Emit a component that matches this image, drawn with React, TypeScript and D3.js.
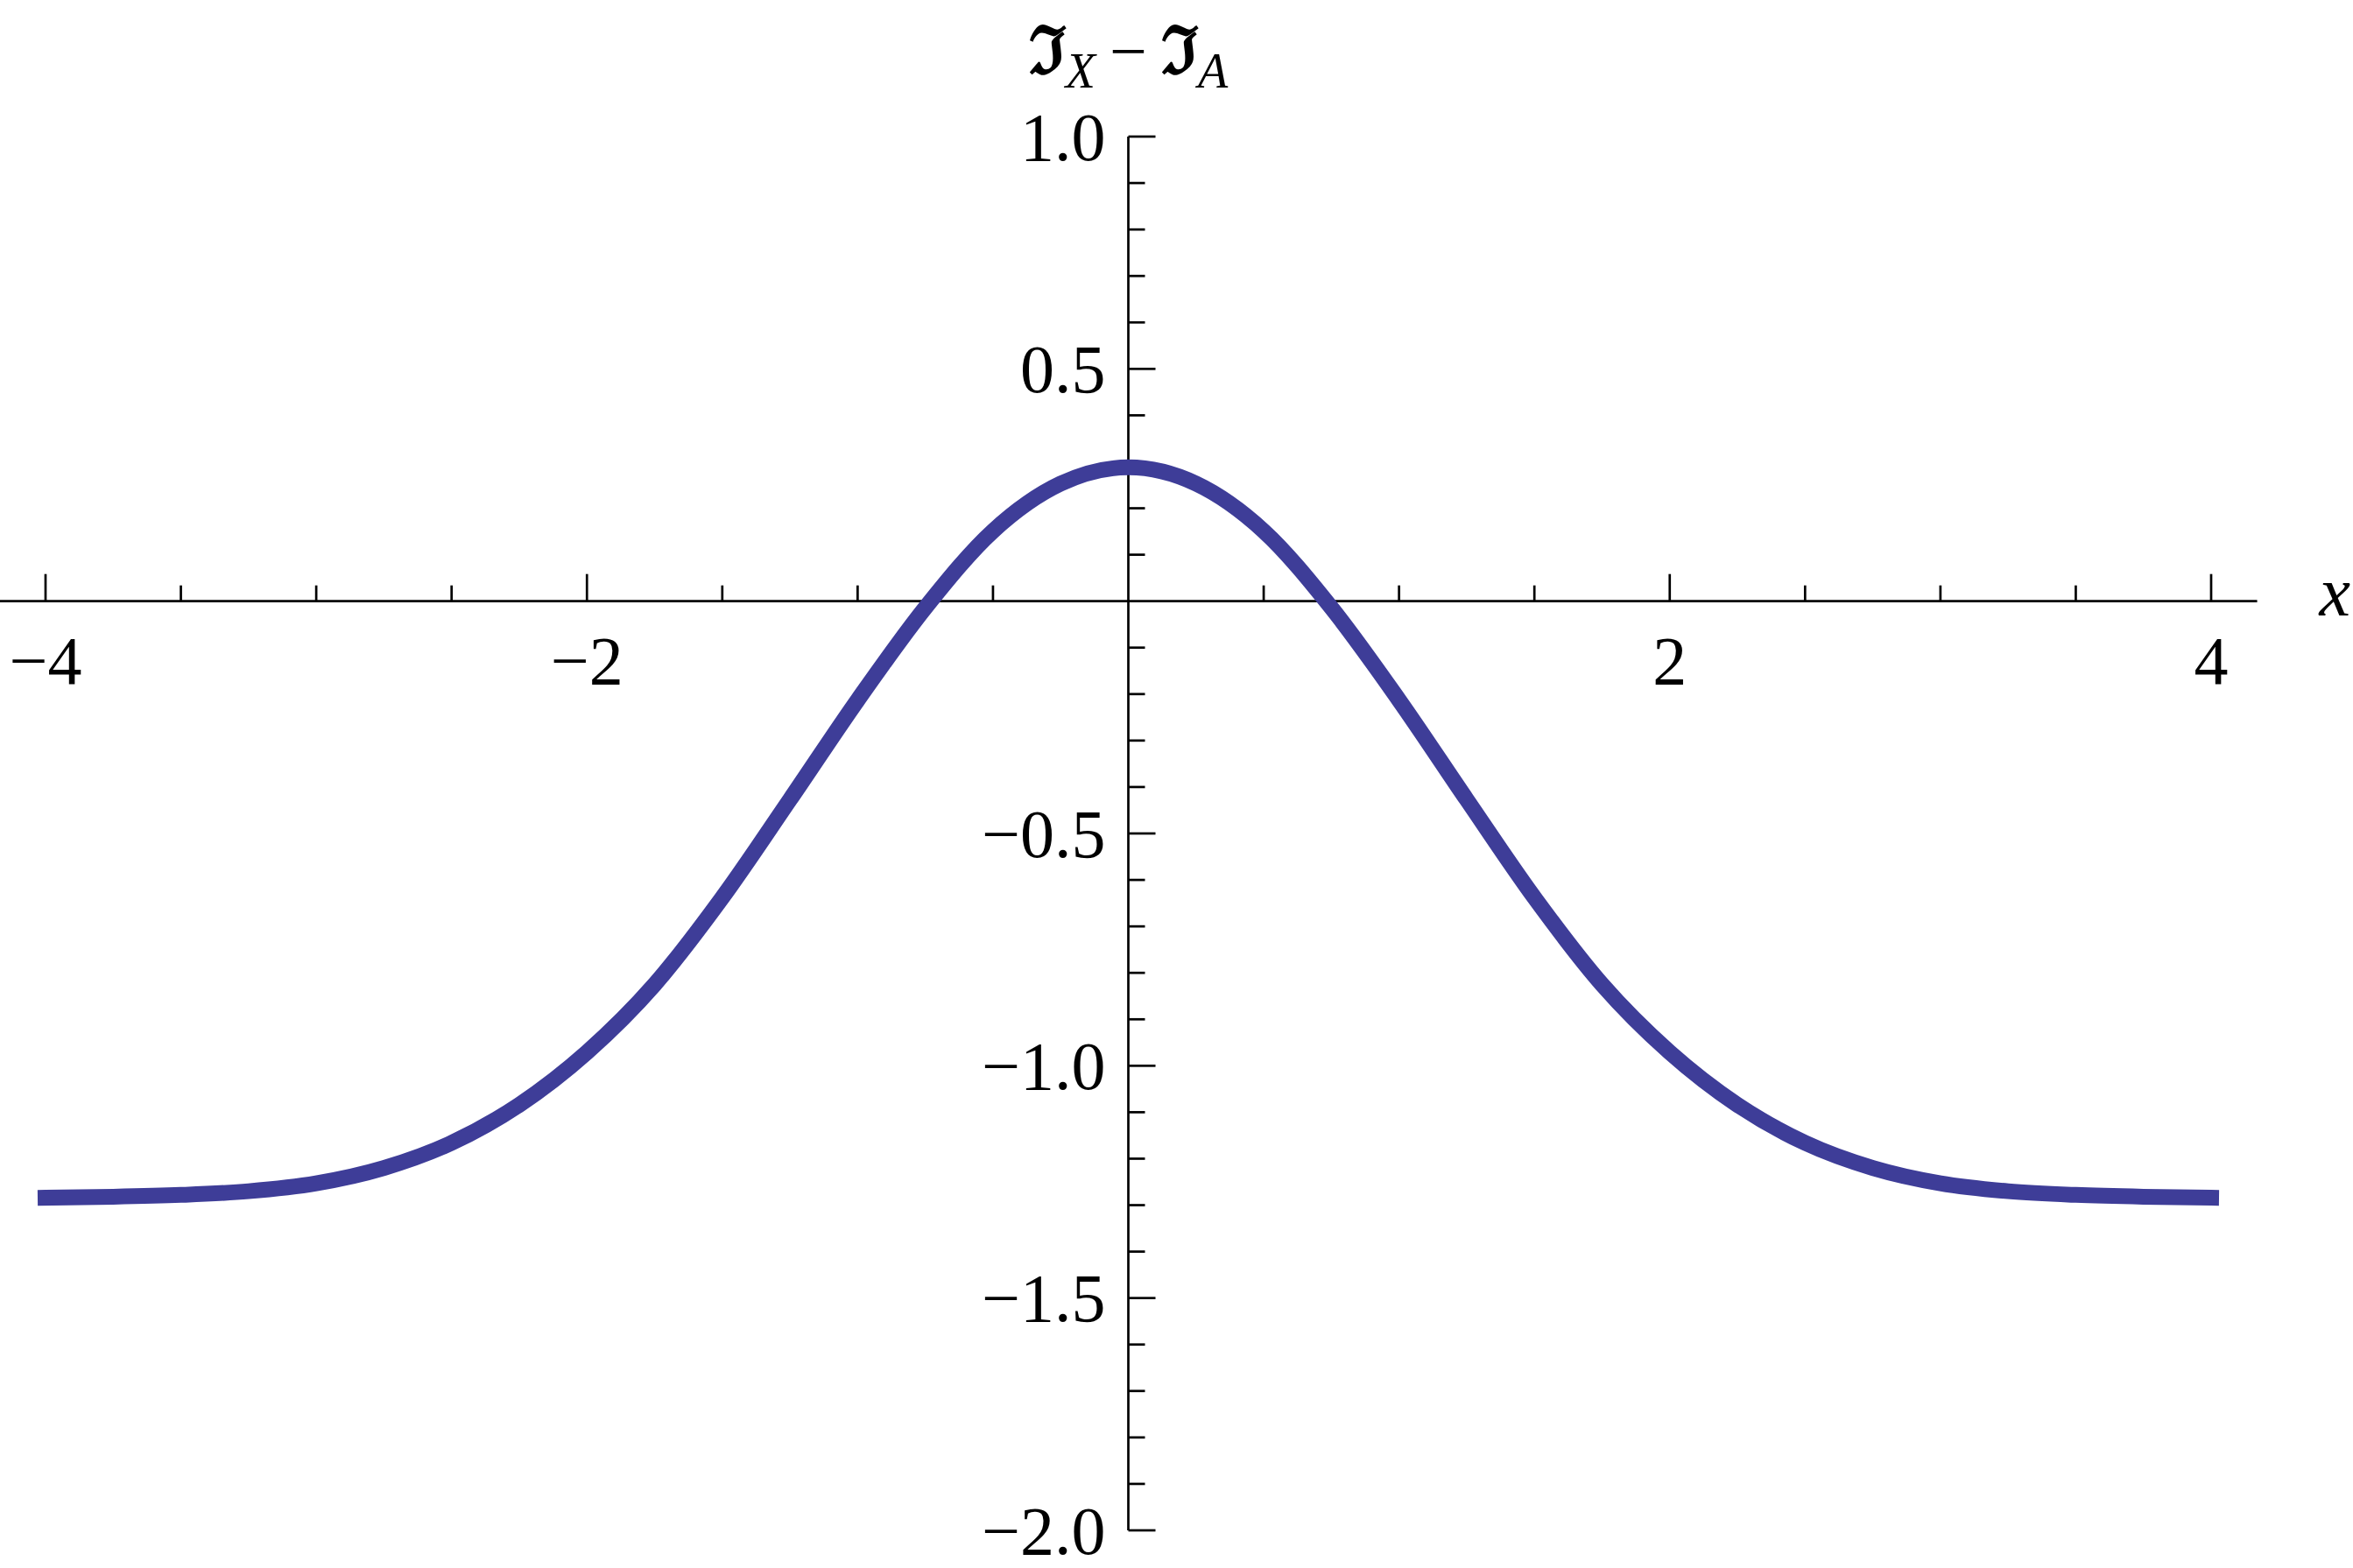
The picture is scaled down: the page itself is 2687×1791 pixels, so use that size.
import * as d3 from 'd3'

// values
const xs = [-4, -3.75, -3.5, -3.25, -3, -2.75, -2.5, -2.25, -2, -1.75, -1.5, -1.25, -1, -0.75, -0.5, -0.25, 0,
  0.25, 0.5, 0.75, 1, 1.25, 1.5, 1.75, 2, 2.25, 2.5, 2.75, 3, 3.25, 3.5, 3.75, 4]
const ys = [-1.284, -1.282, -1.278, -1.27, -1.253, -1.22, -1.166, -1.084, -0.971, -0.825, -0.638, -0.427, -0.213, -0.014, 0.151, 0.253, 0.288,
  0.253, 0.151, -0.014, -0.213, -0.427, -0.638, -0.825, -0.971, -1.084, -1.166, -1.22, -1.253, -1.27, -1.278, -1.282, -1.284]

const xLabels = [-4, -2, 2, 4]
const xMinor = [-3.5, -3, -2.5, -1.5, -1, -0.5, 0.5, 1, 1.5, 2.5, 3, 3.5]
const yLabels = [1.0, 0.5, -0.5, -1.0, -1.5, -2.0]
const yMinor = d3.range(-20, 11).map(d => d / 10).filter(v => Math.abs(v * 2 - Math.round(v * 2)) > 1e-6)

const xExtent = [-4.17, 4.17]
const yExtent = [-2, 1]

function App() {
  const width = 2687
  const height = 1791

  const x = d3.scaleLinear().domain([-4, 4]).range([52, 2525])
  const y = d3.scaleLinear().domain([-2, 1]).range([1748, 156])

  const line = d3.line<number>()
    .x((d, i) => x(xs[i]))
    .y(d => y(d))
    .curve(d3.curveMonotoneX)

  const fmt = (v: number) => (v < 0 ? '\u2212' : '') + Math.abs(v).toFixed(1)
  const fmtX = (v: number) => (v < 0 ? '\u2212' : '') + Math.abs(v)

  const x0 = x(0)
  const y0 = y(0)
  const font = '"Liberation Serif", "Times New Roman", serif'

  return (
    <svg width={width} height={height} style={{ position: 'absolute', left: 0, top: 0, background: '#fff' }}>
      {/* axes */}
      <line x1={x(xExtent[0])} x2={x(xExtent[1])} y1={y0} y2={y0} stroke="#000" strokeWidth={2.7} />
      <line x1={x0} x2={x0} y1={y(yExtent[1])} y2={y(yExtent[0])} stroke="#000" strokeWidth={2.7} />

      {/* x ticks */}
      {xLabels.map(v => (
        <line key={'xm' + v} x1={x(v)} x2={x(v)} y1={y0} y2={y0 - 31} stroke="#000" strokeWidth={2.7} />
      ))}
      {xMinor.map(v => (
        <line key={'xn' + v} x1={x(v)} x2={x(v)} y1={y0} y2={y0 - 18} stroke="#000" strokeWidth={2.7} />
      ))}
      {xLabels.map(v => (
        <text key={'xl' + v} x={x(v)} y={y0 + 94} textAnchor="middle" fontFamily={font} fontSize={78}>{fmtX(v)}</text>
      ))}

      {/* y ticks */}
      {yLabels.map(v => (
        <line key={'ym' + v} x1={x0} x2={x0 + 31} y1={y(v)} y2={y(v)} stroke="#000" strokeWidth={2.7} />
      ))}
      {yMinor.map(v => (
        <line key={'yn' + v} x1={x0} x2={x0 + 19} y1={y(v)} y2={y(v)} stroke="#000" strokeWidth={2.7} />
      ))}
      {yLabels.map(v => (
        <text key={'yl' + v} x={x0 - 26} y={y(v)} dy="0.34em" textAnchor="end" fontFamily={font} fontSize={78}>{fmt(v)}</text>
      ))}

      {/* curve */}
      <path d={line(ys) || ''} fill="none" stroke="#3e3d98" strokeWidth={18} strokeLinecap="square" strokeLinejoin="round" />

      {/* axis labels */}
      <text x={x0} y={84} textAnchor="middle" fontFamily={font} fontSize={76}>
        <tspan fontWeight="bold">{'\u2111'}</tspan>
        <tspan fontStyle="italic" fontSize={56} dy={16}>X</tspan>
        <tspan dy={-16} dx={16}>{'\u2212'}</tspan>
        <tspan fontWeight="bold" dx={16}>{'\u2111'}</tspan>
        <tspan fontStyle="italic" fontSize={56} dy={16}>A</tspan>
      </text>
      <text x={x(xExtent[1]) + 71} y={y0 + 16} fontFamily={font} fontStyle="italic" fontSize={80}>x</text>
    </svg>
  )
}

export default App
